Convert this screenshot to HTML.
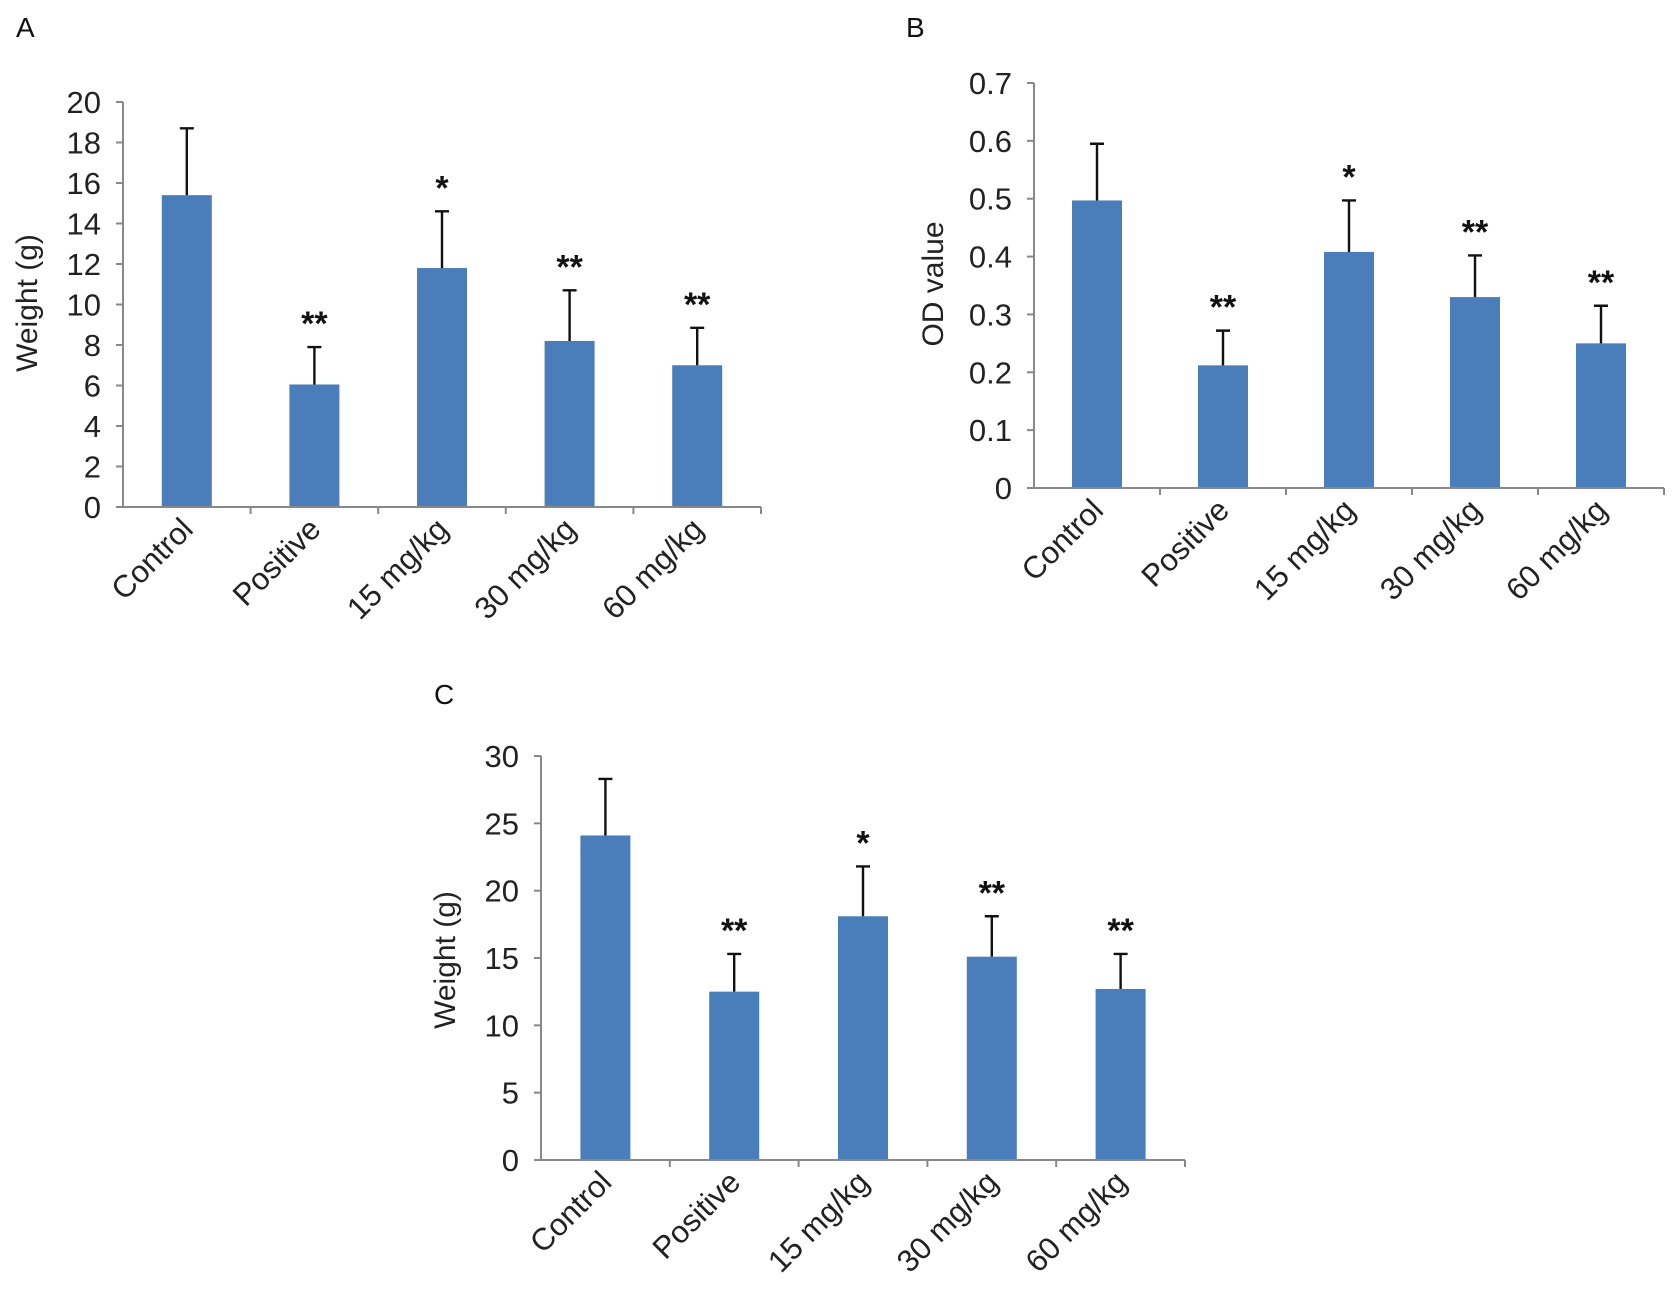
<!DOCTYPE html>
<html><head><meta charset="utf-8"><style>
html,body{margin:0;padding:0;background:#fff;}
svg{display:block;font-family:"Liberation Sans",Arial,sans-serif;}
</style></head><body>
<svg id="fig" width="1678" height="1304" viewBox="0 0 1678 1304"></svg>
<script>
const categories = ["Control","Positive","15 mg/kg","30 mg/kg","60 mg/kg"];
const valuesA = [15.4, 6.05, 11.8, 8.2, 7.0];
const errTopA = [18.7, 7.9, 14.6, 10.7, 8.85];
const starsA = ["", "**", "*", "**", "**"];
const ticksA = [0,2,4,6,8,10,12,14,16,18,20];
const valuesB = [0.497, 0.212, 0.408, 0.33, 0.25];
const errTopB = [0.595, 0.272, 0.497, 0.402, 0.315];
const starsB = ["", "**", "*", "**", "**"];
const ticksB = ["0","0.1","0.2","0.3","0.4","0.5","0.6","0.7"];
const valuesC = [24.1, 12.5, 18.1, 15.1, 12.7];
const errTopC = [28.3, 15.3, 21.8, 18.1, 15.3];
const starsC = ["", "**", "*", "**", "**"];
const ticksC = [0,5,10,15,20,25,30];

const NS = "http://www.w3.org/2000/svg";
const svg = document.getElementById('fig');
function mk(tag, attrs, parent){const e=document.createElementNS(NS,tag);for(const k in attrs)e.setAttribute(k,attrs[k]);(parent||svg).appendChild(e);return e;}

function panel(id, letter, lx, ly, ax, yTop, y0, xEnd, yMax, ticks, vals, errs, stars, title, tx, ty){
  const g = mk('g',{});
  
  
  const yS = v => y0 - (v/yMax)*(y0-yTop);
  const cw = (xEnd-ax)/categories.length;
  const xC = i => ax + cw*(i+0.5);
  const L = mk('text',{x:lx,y:ly,'font-size':28,fill:'#111'},g); L.textContent=letter;
  
  
  vals.forEach((v,i)=>{
    const b = mk('rect',{x:xC(i)-25,y:yS(v),width:50,height:y0-yS(v),fill:'#4a7ebb'},g);
    
    
    const e = mk('path',{d:`M${xC(i)} ${yS(v)}V${yS(errs[i])}M${xC(i)-7} ${yS(errs[i])}H${xC(i)+7}`,stroke:'#111','stroke-width':2.4,fill:'none'},g);
    
    
    if(stars[i]){
      const s = mk('text',{x:xC(i),y:yS(errs[i])-12,'font-size':34,'font-weight':'bold','text-anchor':'middle',fill:'#111'},g);
      s.textContent = stars[i];
      
      
    }
    const t = mk('text',{x:xC(i)+8,y:y0+24,'font-size':31,'text-anchor':'end',fill:'#222',transform:`rotate(-45 ${xC(i)+8} ${y0+24})`},g);
    t.textContent = categories[i];
    
    
  });
  const axes = mk('path',{d:`M${ax} ${yTop}V${y0}H${xEnd}`,stroke:'#888','stroke-width':2,fill:'none'},g);
  
  
  ticks.forEach(tk=>{
    const v = parseFloat(tk); const y = yS(v);
    mk('line',{x1:ax-7,x2:ax,y1:y,y2:y,stroke:'#888','stroke-width':2},g);
    const t = mk('text',{x:ax-22,y:y+11,'font-size':31,'text-anchor':'end',fill:'#222'},g);
    t.textContent = tk;
    
    
  });
  for(let i=1;i<=categories.length;i++){
    const x = ax+cw*i;
    mk('line',{x1:x,x2:x,y1:y0,y2:y0+7,stroke:'#888','stroke-width':2},g);
  }
  const yt = mk('text',{x:tx,y:ty,'font-size':30,'text-anchor':'middle',fill:'#222',transform:`rotate(-90 ${tx} ${ty})`},g);
  yt.textContent = title;
  
  
}
panel('a','A',16,37,123,102,507,761,20,ticksA.map(String),valuesA,errTopA,starsA,'Weight (g)',37,303);
panel('b','B',906,37,1034,83,488,1664,0.7,ticksB,valuesB,errTopB,starsB,'OD value',943,284);
panel('c','C',434,704,541,756,1160,1185,30,ticksC.map(String),valuesC,errTopC,starsC,'Weight (g)',455,960);
</script>
</body></html>
